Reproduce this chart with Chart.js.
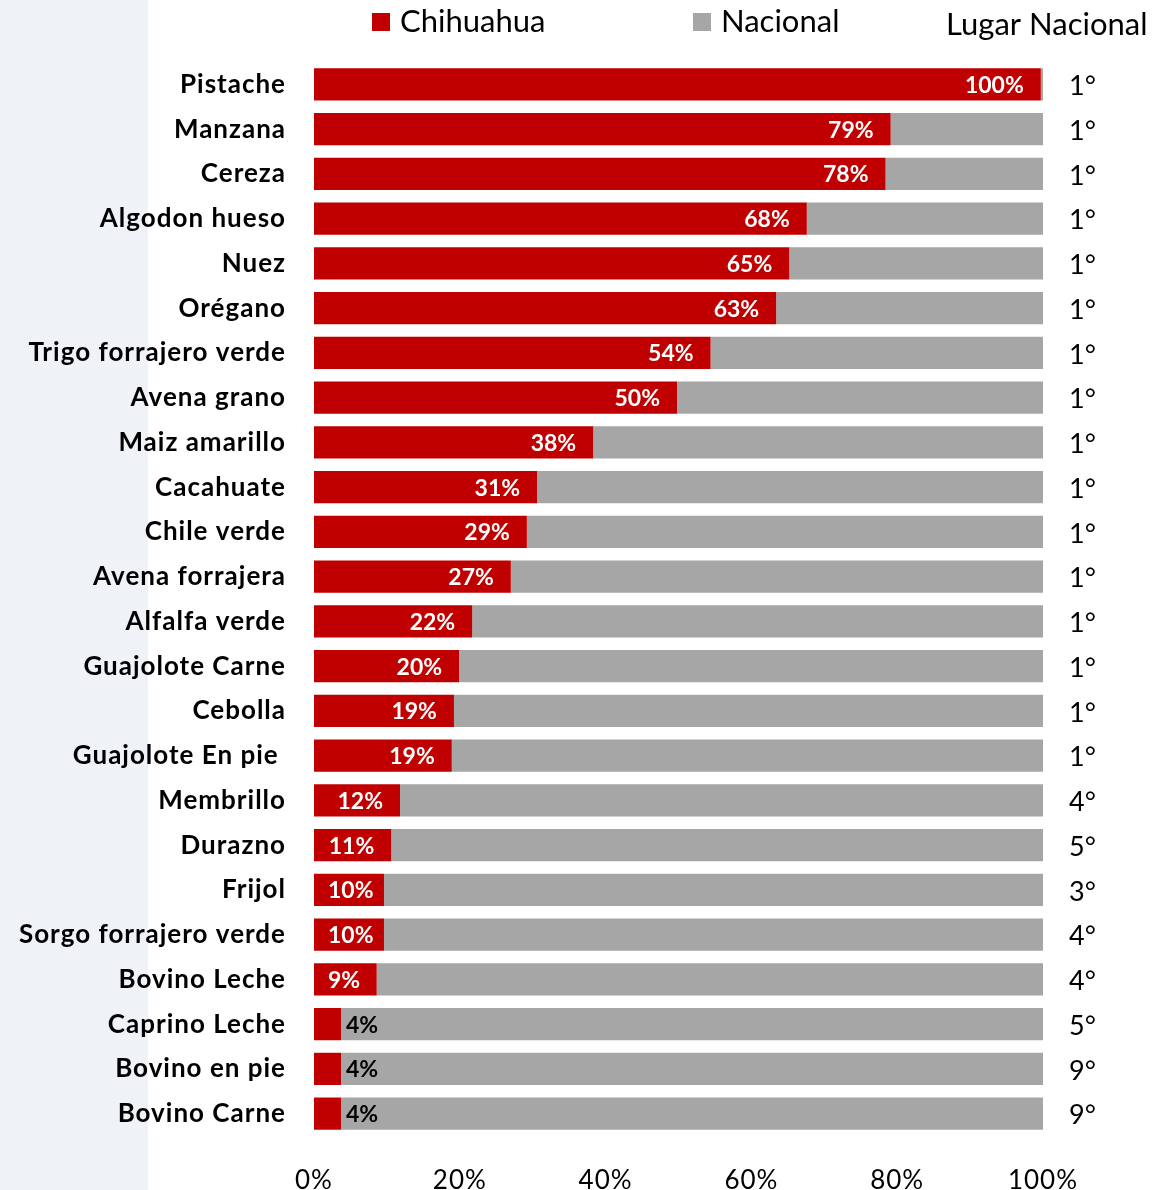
<!DOCTYPE html>
<html>
<head>
<meta charset="utf-8">
<script src="https://cdn.jsdelivr.net/npm/chart.js"></script>
<style>
  html, body { margin: 0; padding: 0; background: #fff; }
  #wrap { width: 1154px; height: 1190px; position: relative; }
</style>
</head>
<body>
<div id="wrap"><canvas id="myChart"></canvas></div>
<script>
// categories and values
const productos = ['Pistache', 'Manzana', 'Cereza', 'Algodon hueso', 'Nuez', 'Orégano',
  'Trigo forrajero verde', 'Avena grano', 'Maiz amarillo', 'Cacahuate', 'Chile verde',
  'Avena forrajera', 'Alfalfa verde', 'Guajolote Carne', 'Cebolla', 'Guajolote En pie ',
  'Membrillo', 'Durazno', 'Frijol', 'Sorgo forrajero verde', 'Bovino Leche',
  'Caprino Leche', 'Bovino en pie', 'Bovino Carne'];
const chihuahua = [99.7, 79.1, 78.4, 67.6, 65.2, 63.4, 54.4, 49.8, 38.3, 30.6, 29.2,
  27.0, 21.7, 19.9, 19.2, 18.9, 11.8, 10.6, 9.6, 9.6, 8.6, 3.7, 3.7, 3.7];
const nacional = chihuahua.map(v => 100 - v);
const lugar = ['1°', '1°', '1°', '1°', '1°', '1°', '1°', '1°', '1°', '1°', '1°', '1°',
  '1°', '1°', '1°', '1°', '4°', '5°', '3°', '4°', '4°', '5°', '9°', '9°'];
const xTicks = ['0%', '20%', '40%', '60%', '80%', '100%'];

const ROJO = '#c00000';
const GRIS = '#a6a6a6';

// left strip, legend, bar labels and rank column
const extras = {
  id: 'extras',
  beforeDraw(chart) {
    const c = chart.ctx;
    c.save();
    c.fillStyle = '#eff3f7';
    c.fillRect(0, 0, 148, chart.height);
    c.restore();
    c.letterSpacing = '1px'; // spaced category labels like the original
  },
  afterDatasetsDraw(chart) {
    const c = chart.ctx;
    c.letterSpacing = '0px';
    const meta = chart.getDatasetMeta(0);
    const x0 = chart.scales.x.getPixelForValue(0);
    c.save();
    c.textBaseline = 'middle';
    c.font = 'bold 23px Lato';
    meta.data.forEach((bar, i) => {
      const txt = Math.round(chihuahua[i]) + '%';
      const w = c.measureText(txt).width;
      if (chihuahua[i] < 5) {
        c.fillStyle = '#000';
        c.textAlign = 'left';
        c.fillText(txt, bar.x + 5, bar.y + 1);
      } else {
        c.fillStyle = '#fff';
        c.textAlign = 'right';
        const xr = Math.max(bar.x - 17, x0 + 14 + w);
        c.fillText(txt, xr, bar.y + 1);
      }
    });
    // rank column
    c.font = '27px Lato';
    c.fillStyle = '#000';
    c.textAlign = 'left';
    meta.data.forEach((bar, i) => {
      c.fillText(lugar[i], 1069, bar.y + 2);
    });
    // legend
    c.font = '31px Lato';
    c.fillStyle = ROJO;
    c.fillRect(372, 13, 18, 18);
    c.fillStyle = GRIS;
    c.fillRect(693, 13, 18, 18);
    c.fillStyle = '#000';
    c.fillText('Chihuahua', 400, 22);
    c.fillText('Nacional', 721, 22);
    c.fillText('Lugar Nacional', 946, 25);
    c.restore();
  }
};

new Chart(document.getElementById('myChart'), {
  type: 'bar',
  data: {
    labels: productos,
    datasets: [
      { label: 'Chihuahua', data: chihuahua, backgroundColor: ROJO,
        barPercentage: 0.72, categoryPercentage: 1 },
      { label: 'Nacional', data: nacional, backgroundColor: GRIS,
        barPercentage: 0.72, categoryPercentage: 1 }
    ]
  },
  options: {
    indexAxis: 'y',
    responsive: true,
    maintainAspectRatio: false,
    animation: false,
    layout: { padding: { left: 0, right: 111, top: 62, bottom: 0 } },
    plugins: { legend: { display: false }, tooltip: { enabled: false } },
    scales: {
      x: {
        stacked: true,
        min: 0, max: 100,
        grid: { display: false, drawTicks: false },
        border: { display: false },
        afterFit(s) { s.height = 54; },
        afterBuildTicks(s) { s.ticks = xTicks.map((t, i) => ({ value: i * 20 })); },
        ticks: {
          padding: 29,
          color: '#000',
          font: { family: 'Lato', size: 26 },
          maxRotation: 0,
          callback: (v, i) => xTicks[i]
        }
      },
      y: {
        stacked: true,
        grid: { display: false, drawTicks: false },
        border: { display: false },
        afterFit(s) { s.width = 314; },
        ticks: {
          padding: 28,
          color: '#000',
          font: { family: 'Lato', size: 26, weight: 'bold' }
        }
      }
    }
  },
  plugins: [extras]
});
</script>
</body>
</html>
